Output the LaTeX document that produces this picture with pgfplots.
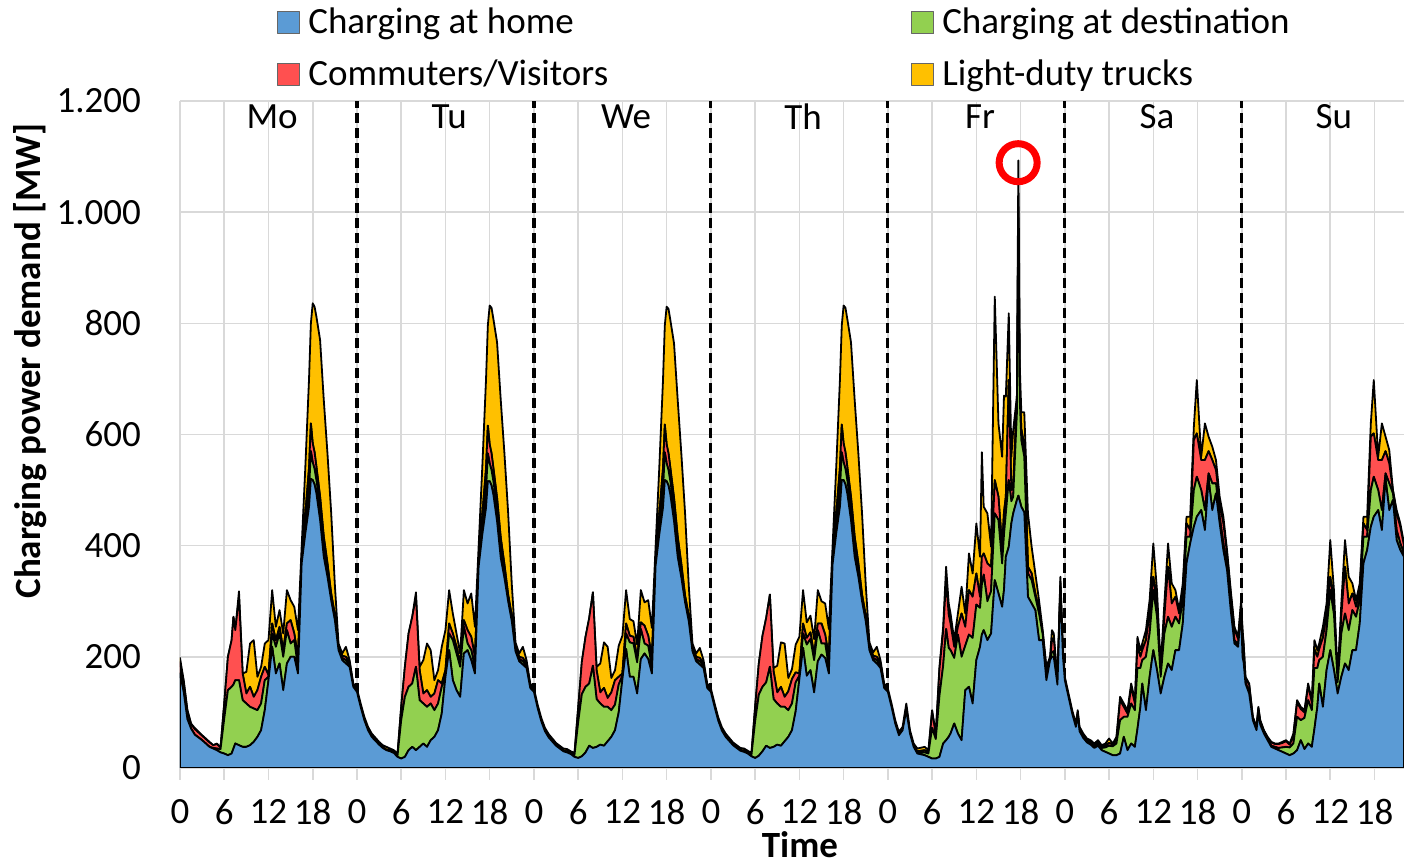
\documentclass[border=0pt]{standalone}
\usepackage{fontspec}
\setmainfont{Carlito}
\usepackage{pgfplots}
\usepackage{pgfplotstable}
\pgfplotsset{compat=1.18}
\definecolor{chome}{HTML}{5B9BD5}
\definecolor{cdest}{HTML}{92D050}
\definecolor{ccomm}{HTML}{FF5050}
\definecolor{ctruck}{HTML}{FFC000}
\definecolor{cgrid}{HTML}{D9D9D9}

\pgfplotstableread{
t home dest comm truck
0 170 0 20 8
0.5 137 0 18 3
1 88 0 14 3
1.5 71 0 8 1
2 60 0 10 2
3 50 0 8 1
4 38 0 8 1
4.5 35 1 5 0
5 32 3 8 1
5.5 28 6 3 0
6 26 63 27 0
6.5 23 117 60 0
7 26 120 84 0
7.25 35 115 122 0
7.5 44 114 90 0
8 41 117 150 10
8.5 38 84 48 0
9 38 78 18 39
9.5 41 69 36 78
10 47 60 21 102
10.5 56 48 36 24
11 68 48 48 18
11.5 104 54 24 42
12 158 6 3 63
12.5 218 24 18 60
13 170 48 12 24
13.5 188 54 12 30
14 140 60 12 30
14.5 188 60 12 60
15 200 24 42 36
15.5 200 30 12 48
16 170 10 20 48
16.5 368 6 6 18
17 422 18 18 84
17.5 470 30 40 160
17.75 520 50 50 180
18 518 32 34 252
18.25 510 28 30 262
18.5 494 24 24 270
19 446 24 18 282
19.5 380 18 18 246
20 344 12 12 198
20.5 302 6 6 146
21 266 5 5 54
21.5 212 4 4 4
22 194 4 4 4
22.5 188 6 6 18
23 182 4 4 4
23.5 146 2 2 2
24 137 0 1 5
24.5 110 0 1 5
25 86 0 1 5
25.5 68 0 1 5
26 56 0 1 5
27 42 0 1 4
27.5 36 0 1 4
28 32 0 1 5
28.5 30 1 1 3
29 27 1 1 3
29.5 20 2 1 3
30 17 69 24 0
30.5 20 108 54 0
31 32 114 96 0
31.5 38 114 120 0
32 32 150 126 8
32.5 38 84 54 6
33 44 72 18 60
33.5 38 72 30 84
34 50 66 12 84
34.5 56 48 30 24
35 68 48 42 18
35.5 98 48 6 66
36 164 6 6 72
36.5 212 30 18 60
37 158 72 12 36
37.5 140 66 12 24
38 128 54 6 18
38.5 206 48 12 54
39 212 12 24 48
39.5 194 18 24 78
40 170 12 18 54
40.5 362 6 6 24
41 420 18 18 86
41.5 468 30 40 160
41.75 516 50 50 180
42 516 32 34 250
42.25 508 28 30 262
42.5 492 24 24 268
43 444 24 18 280
43.5 378 18 18 248
44 342 12 12 200
44.5 300 6 6 148
45 264 5 5 56
45.5 210 4 4 8
46 192 4 4 6
46.5 186 6 6 20
47 180 4 4 6
47.5 144 2 2 4
48 137 0 1 5
48.5 108 0 1 5
49 84 0 1 5
49.5 66 0 1 5
50 55 0 1 5
51 40 0 1 4
51.5 35 0 1 4
52 30 0 1 4
52.5 28 1 1 4
53 25 1 1 3
53.5 20 3 1 3
54 18 64 26 0
54.5 21 112 58 0
55 28 118 90 0
55.5 40 112 118 0
56 36 148 132 0
56.5 38 86 52 6
57 42 74 20 52
57.5 40 70 34 82
58 48 62 16 92
58.5 56 48 32 26
59 68 46 44 18
59.5 100 50 14 56
60 160 6 4 68
60.5 214 28 18 60
61 164 62 12 30
61.5 164 60 12 28
62 134 56 8 24
62.5 196 54 12 58
63 206 18 32 42
63.5 196 24 18 64
64 170 12 18 52
64.5 364 6 6 22
65 420 18 18 84
65.5 468 30 40 158
65.75 518 50 50 178
66 516 32 34 248
66.25 508 28 30 260
66.5 492 24 24 266
67 444 24 18 278
67.5 380 18 18 246
68 342 12 12 198
68.5 298 6 6 148
69 264 5 5 54
69.5 210 4 4 6
70 192 4 4 6
70.5 186 6 6 18
71 180 4 4 6
71.5 144 2 2 4
72 137 0 1 5
72.5 110 0 1 5
73 85 0 1 5
73.5 67 0 1 5
74 56 0 1 5
75 41 0 1 4
75.5 36 0 1 4
76 31 0 1 4
76.5 29 1 1 4
77 26 1 1 3
77.5 21 2 1 3
78 18 66 26 0
78.5 22 110 56 0
79 30 116 92 0
79.5 40 114 116 0
80 36 146 130 0
80.5 38 86 50 6
81 42 74 20 48
81.5 40 70 36 80
82 48 62 18 96
82.5 56 48 34 24
83 68 48 44 18
83.5 102 52 18 50
84 160 6 4 66
84.5 216 26 18 60
85 166 56 12 28
85.5 176 56 12 30
86 136 58 10 28
86.5 192 56 12 60
87 204 20 36 40
87.5 198 26 16 56
88 170 12 18 50
88.5 366 6 6 20
89 422 18 18 84
89.5 470 30 40 158
89.75 518 50 50 178
90 518 32 34 248
90.25 510 28 30 260
90.5 494 24 24 266
91 446 24 18 278
91.5 380 18 18 246
92 344 12 12 198
92.5 300 6 6 146
93 264 5 5 56
93.5 212 4 4 6
94 194 4 4 6
94.5 188 6 6 18
95 180 4 4 6
95.5 144 2 2 4
96 137 0 0 6
96.5 110 0 0 6
97 80 0 0 6
97.5 59 0 0 6
98 68 0 0 6
98.5 104 0 2 10
99 62 0 0 6
99.5 38 0 0 6
100 26 2 2 5
101 23 5 4 6
101.5 20 6 2 4
102 17 55 30 2
102.5 17 35 8 2
103 20 110 48 4
103.5 44 140 62 8
103.9 50 200 88 24
104.25 56 160 60 20
104.5 62 150 48 18
105 80 118 20 12
105.5 62 178 14 24
106 50 150 78 48
106.5 140 80 34 24
107 146 94 80 66
107.5 116 118 74 42
108 194 100 56 90
108.5 218 70 20 72
108.75 240 90 50 188
109 248 100 38 84
109.5 230 70 68 90
110 242 76 44 36
110.5 338 120 60 330
111 314 132 42 132
111.5 290 78 30 162
111.75 320 100 40 210
112 380 78 30 180
112.4 398 120 180 120
112.75 440 40 20 60
113 458 30 18 102
113.5 482 156 30 0
113.7 490 500 20 83
113.9 480 180 20 40
114.1 470 120 20 30
114.5 460 100 20 60
115 308 42 12 96
115.5 296 42 12 48
116 284 24 6 36
116.5 230 48 6 18
117 230 10 4 4
117.5 158 12 6 6
118 194 2 2 2
118.25 200 8 20 20
118.5 200 10 24 8
119 150 2 4 2
119.4 320 6 10 8
119.75 200 2 2 2
120 158 0 2 4
120.5 128 0 2 4
121 98 0 2 4
121.5 74 2 1 3
121.75 95 2 3 4
122 66 2 2 4
122.5 54 2 2 4
123 46 2 2 3
123.5 42 2 2 4
124 36 2 2 4
124.5 40 4 2 4
125 32 4 1 4
125.5 29 8 3 4
126 26 14 5 8
126.5 23 16 3 2
127 23 21 8 4
127.5 26 60 36 6
128 56 36 18 6
128.5 32 60 6 6
129 44 72 30 6
129.5 38 66 12 6
129.85 70 110 40 16
130.25 110 70 20 12
130.5 152 42 18 12
131 104 96 30 18
131.5 164 78 36 24
132 212 108 24 60
132.5 176 96 24 24
133 134 30 8 10
133.5 164 78 30 24
134 188 84 90 42
134.5 176 78 42 36
135 212 60 36 12
135.5 212 48 18 6
136 260 42 18 12
136.5 368 48 24 12
137 404 12 12 24
137.5 434 66 90 24
137.9 452 72 78 96
138.5 464 36 54 6
139 428 36 90 66
139.5 520 10 40 26
140 464 48 42 24
140.5 494 18 24 18
141 440 12 24 12
141.5 392 12 36 12
142 356 6 24 6
142.5 284 6 24 6
143 224 6 20 4
143.5 218 4 10 4
143.9 280 4 10 6
144.1 200 4 40 6
144.25 190 2 30 2
144.5 152 2 8 2
145 134 2 14 2
145.5 86 2 3 1
146 68 2 3 1
146.25 100 2 6 2
146.5 78 2 5 1
147 62 2 3 1
147.5 50 2 3 1
148 38 2 6 1
148.5 35 3 5 1
149 32 4 7 1
149.5 29 8 8 2
150 26 12 10 2
150.5 23 14 5 2
151 26 18 14 4
151.5 32 60 26 4
152 50 36 20 4
152.5 34 56 10 4
153 44 78 26 4
153.5 38 66 14 4
153.85 70 110 34 16
154.25 110 70 20 12
154.5 152 42 20 10
155 110 90 34 20
155.5 176 72 28 20
156 212 108 24 66
156.5 176 100 20 24
157 134 20 6 4
157.5 164 78 32 22
158 188 90 84 48
158.5 176 72 48 48
159 212 72 30 18
159.5 212 60 18 12
160 260 42 18 12
160.5 368 48 24 12
161 392 24 12 24
161.5 434 66 96 24
161.9 452 72 78 96
162.5 464 36 54 6
163 428 36 90 66
163.5 520 10 40 26
164 464 48 36 24
164.5 482 12 6 0
165 410 18 30 6
165.5 392 12 30 6
166 380 6 14 4
}\tbl

\begin{document}
\begin{tikzpicture}
\begin{axis}[
  name=ax,
  width=612pt, height=333.5pt, scale only axis,
  xmin=0, xmax=166, ymin=0, ymax=1200,
  stack plots=y,
  xtick={0,6,...,162},
  xticklabels={0,6,12,18,0,6,12,18,0,6,12,18,0,6,12,18,0,6,12,18,0,6,12,18,0,6,12,18},
  ytick={0,200,...,1200},
  yticklabels={0,200,400,600,800,{1.000},{1.200}},
  grid=major,
  grid style={draw=cgrid, line width=0.8pt},
  axis x line*=bottom, axis y line*=left,
  axis line style={draw=cgrid, line width=0.8pt},
  tick align=outside, major tick length=6pt,
  xtick style={draw=cgrid, line width=0.8pt},
  ytick style={draw=none},
  tick label style={font=\fontsize{18.5}{22}\selectfont},
  xticklabel shift=6pt,
  yticklabel shift=10pt,
  xlabel={\bfseries Time},
  ylabel={\bfseries Charging power demand [MW]},
  label style={font=\fontsize{18.5}{22}\selectfont},
  xlabel style={at={(axis description cs:0.5065,-0.1155)}, anchor=center, inner sep=0pt},
  ylabel style={at={(axis description cs:-0.1225,0.61)}, anchor=center},
  legend columns=2,
  legend cell align=left,
  legend image code/.code={\draw[#1, draw=black!60, line width=0.5pt] (0pt,-5.5pt) rectangle (11pt,5.5pt);},
  legend style={draw=none, fill=none, font=\fontsize{18.5}{22}\selectfont,
    at={(axis description cs:0.08,1)}, anchor=south west, xshift=-3.5pt, yshift=2pt,
    /tikz/column 2/.style={column sep=149.5pt},
    /tikz/every odd column/.append style={column sep=2pt},
    row sep=7.5pt},
]
\addplot[fill=chome, draw=black, line width=0.9pt, line join=round] table[x=t, y=home]{\tbl} \closedcycle;
\addlegendentry{Charging at home}
\addplot[fill=cdest, draw=black, line width=0.9pt, line join=round] table[x=t, y=dest]{\tbl} \closedcycle;
\addlegendentry{Charging at destination}
\addplot[fill=ccomm, draw=black, line width=0.9pt, line join=round] table[x=t, y=comm]{\tbl} \closedcycle;
\addlegendentry{Commuters/Visitors}
\addplot[fill=ctruck, draw=black, line width=0.9pt, line join=round] table[x=t, y=truck]{\tbl} \closedcycle;
\addlegendentry{Light-duty trucks}
\addplot[stack plots=false, forget plot, only marks, mark=o, mark size=9.5pt, mark options={draw=red, line width=3.5pt}] coordinates {(113.67,1089)};
\pgfplotsinvokeforeach{24,48,72,96,120,144}{
  \draw[black, line width=1.6pt, dash pattern=on 5pt off 2.5pt] (axis cs:#1,0) -- (axis cs:#1,1200);
}
\node[font=\fontsize{18.5}{22}\selectfont] at (axis cs:12.5,1171) {Mo};
\node[font=\fontsize{18.5}{22}\selectfont] at (axis cs:36.5,1171) {Tu};
\node[font=\fontsize{18.5}{22}\selectfont] at (axis cs:60.5,1171) {We};
\node[font=\fontsize{18.5}{22}\selectfont] at (axis cs:84.5,1171) {Th};
\node[font=\fontsize{18.5}{22}\selectfont] at (axis cs:108.5,1171) {Fr};
\node[font=\fontsize{18.5}{22}\selectfont] at (axis cs:132.5,1171) {Sa};
\node[font=\fontsize{18.5}{22}\selectfont] at (axis cs:156.5,1171) {Su};
\end{axis}
\pgfresetboundingbox
\path[use as bounding box] ([xshift=-90pt,yshift=-45.5pt]ax.south west) rectangle ([yshift=50.5pt]ax.north east);
\end{tikzpicture}
\end{document}
